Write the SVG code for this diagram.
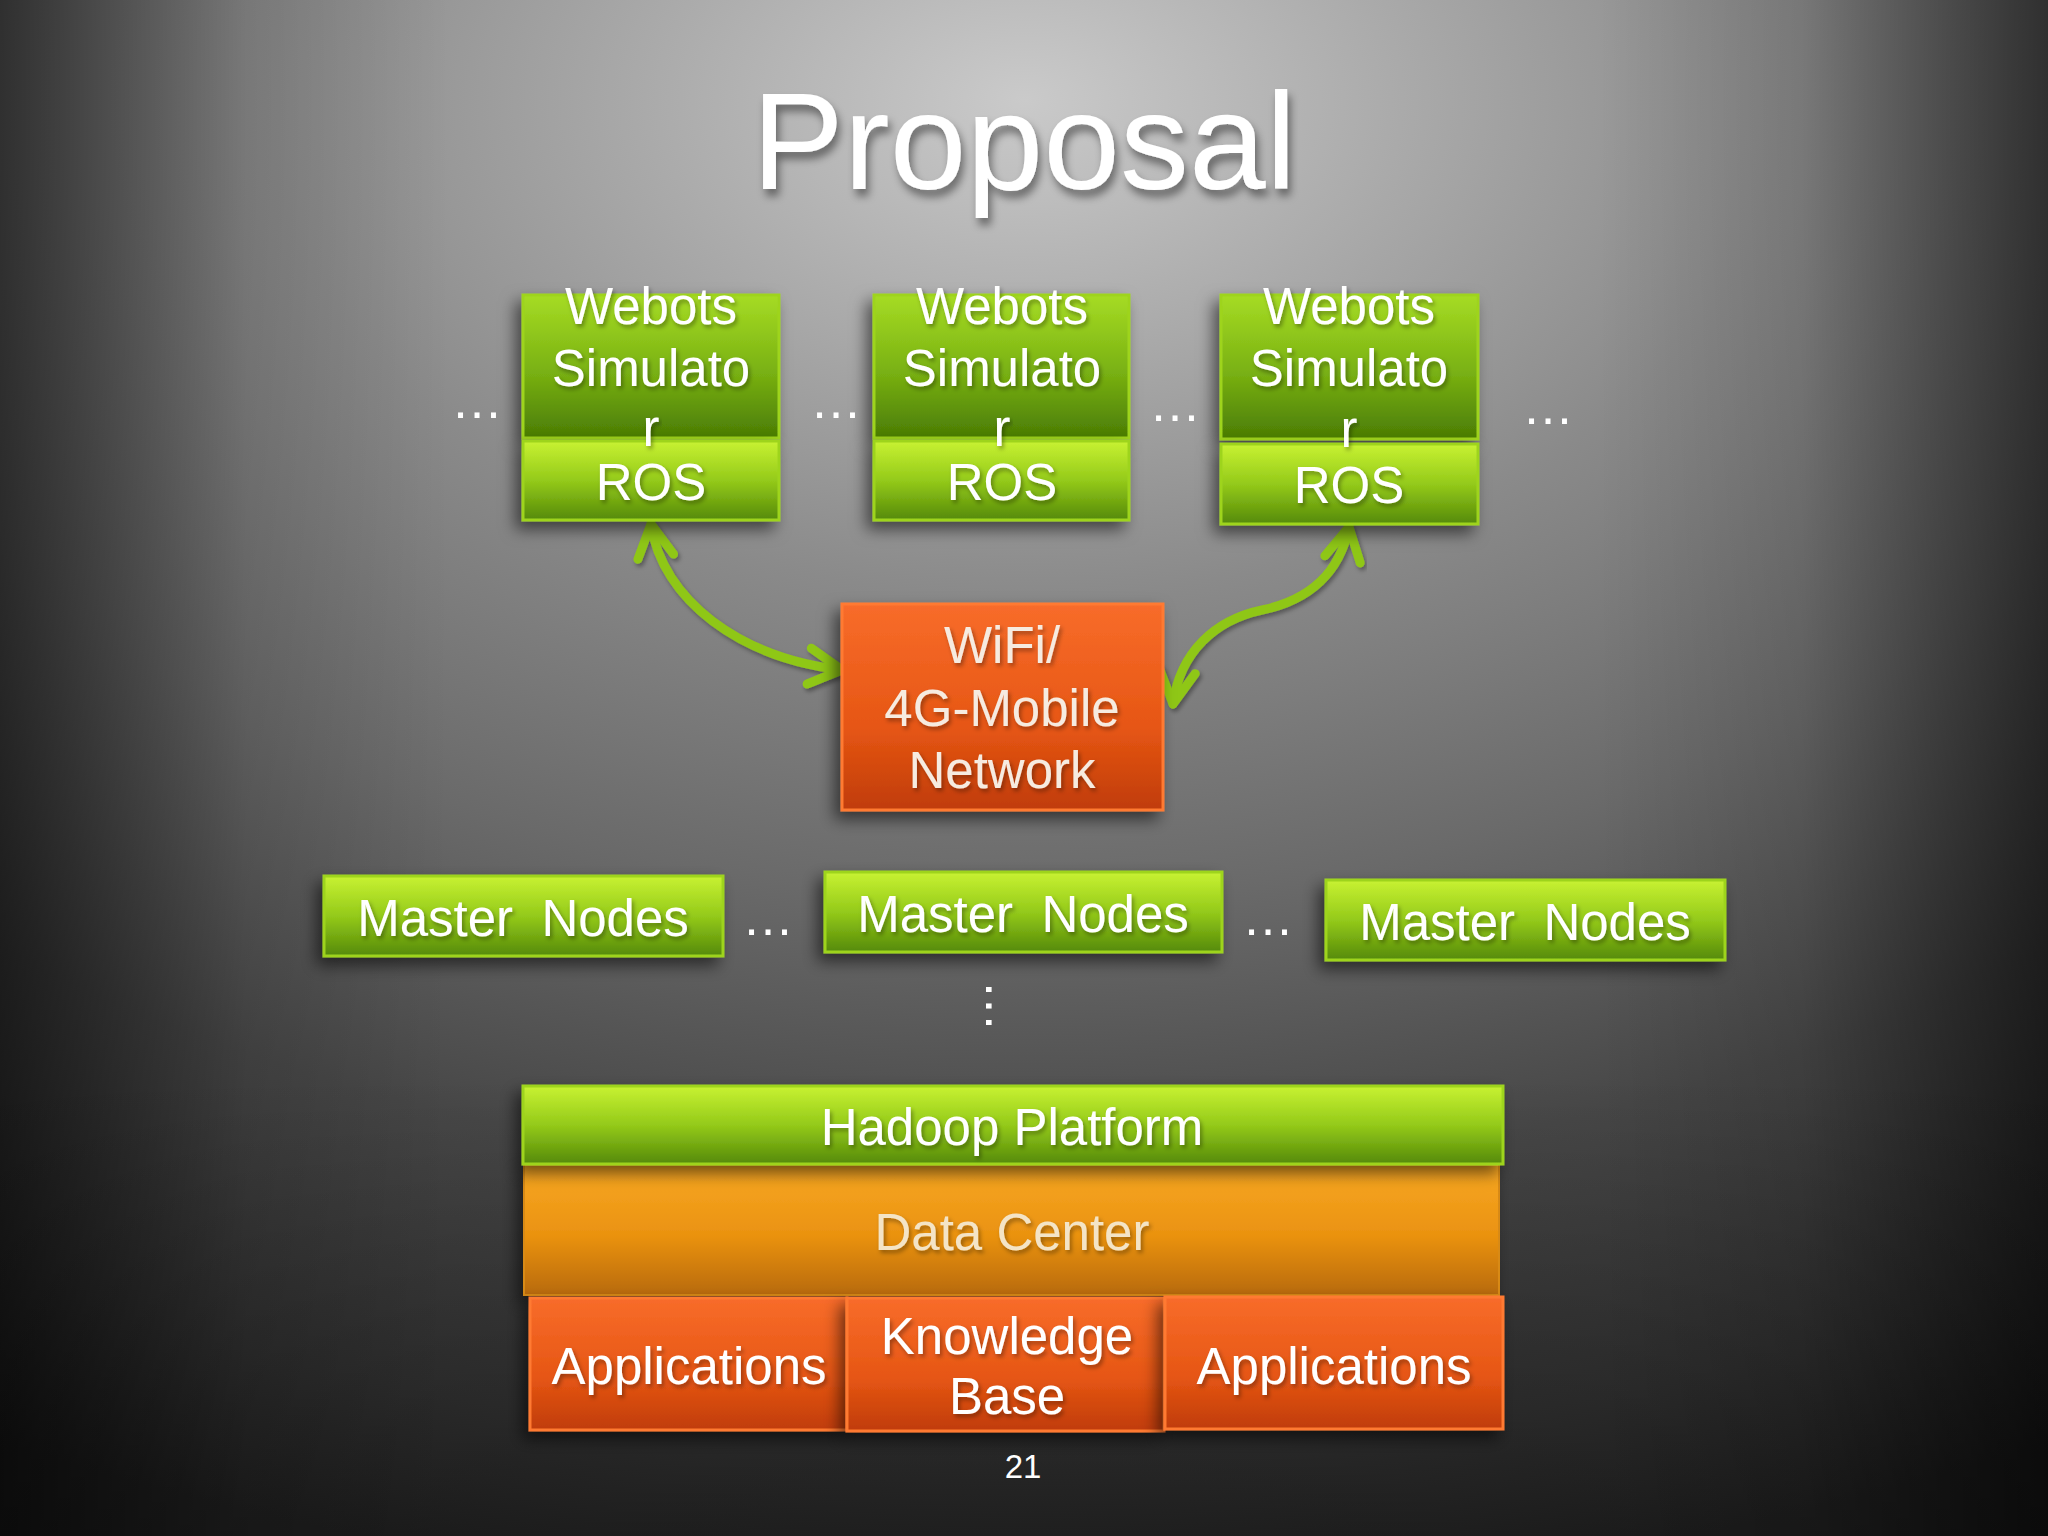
<svg xmlns="http://www.w3.org/2000/svg" width="2048" height="1536" viewBox="0 0 2048 1536">
  <defs>
    <radialGradient id="bg" gradientUnits="userSpaceOnUse" cx="1024" cy="100" r="1500" gradientTransform="translate(1024 100) scale(1.53 1) translate(-1024 -100)">
      <stop offset="0" stop-color="#cacaca"/>
      <stop offset="0.33" stop-color="#8a8a8a"/>
      <stop offset="0.53" stop-color="#6a6a6a"/>
      <stop offset="0.72" stop-color="#474747"/>
      <stop offset="0.9" stop-color="#343434"/>
      <stop offset="1" stop-color="#262626"/>
    </radialGradient>
    <linearGradient id="vigH" x1="0" y1="0" x2="1" y2="0">
      <stop offset="0" stop-color="#000" stop-opacity="0.6"/>
      <stop offset="0.06" stop-color="#000" stop-opacity="0.36"/>
      <stop offset="0.12" stop-color="#000" stop-opacity="0.12"/>
      <stop offset="0.22" stop-color="#000" stop-opacity="0"/>
      <stop offset="0.78" stop-color="#000" stop-opacity="0"/>
      <stop offset="0.88" stop-color="#000" stop-opacity="0.12"/>
      <stop offset="0.94" stop-color="#000" stop-opacity="0.36"/>
      <stop offset="1" stop-color="#000" stop-opacity="0.6"/>
    </linearGradient>
    <linearGradient id="vigV" x1="0" y1="0" x2="0" y2="1">
      <stop offset="0" stop-color="#000" stop-opacity="0"/>
      <stop offset="0.7" stop-color="#000" stop-opacity="0"/>
      <stop offset="1" stop-color="#000" stop-opacity="0.3"/>
    </linearGradient>
    <linearGradient id="green" x1="0" y1="0" x2="0" y2="1">
      <stop offset="0" stop-color="#c8f232"/>
      <stop offset="0.5" stop-color="#94ca1a"/>
      <stop offset="1" stop-color="#558a08"/>
    </linearGradient>
    <linearGradient id="greenDark" x1="0" y1="0" x2="0" y2="1">
      <stop offset="0" stop-color="#a6dc24"/>
      <stop offset="0.55" stop-color="#78b012"/>
      <stop offset="1" stop-color="#4a7c04"/>
    </linearGradient>
    <linearGradient id="orange" x1="0" y1="0" x2="0" y2="1">
      <stop offset="0" stop-color="#f86c2a"/>
      <stop offset="0.6" stop-color="#e65614"/>
      <stop offset="1" stop-color="#c03c08"/>
    </linearGradient>
    <linearGradient id="amber" x1="0" y1="0" x2="0" y2="1">
      <stop offset="0" stop-color="#f8a824"/>
      <stop offset="0.55" stop-color="#ea9210"/>
      <stop offset="1" stop-color="#b86a0c"/>
    </linearGradient>
    <filter id="shadow" x="-20%" y="-30%" width="140%" height="170%">
      <feDropShadow dx="-6" dy="8" stdDeviation="8" flood-color="#000" flood-opacity="0.55"/>
    </filter>
    <filter id="tshadow" x="-10%" y="-20%" width="120%" height="150%">
      <feDropShadow dx="2" dy="3" stdDeviation="2" flood-color="#000" flood-opacity="0.35"/>
    </filter>
    <filter id="titleShadow" x="-10%" y="-20%" width="120%" height="150%">
      <feDropShadow dx="3" dy="7" stdDeviation="4" flood-color="#000" flood-opacity="0.45"/>
    </filter>
    <marker id="chev" markerUnits="userSpaceOnUse" viewBox="-44 -24 52 48" markerWidth="52" markerHeight="48" refX="0" refY="0" orient="auto-start-reverse" overflow="visible">
      <path d="M-33,-18 L0,0 L-33,18" fill="none" stroke="#8fc718" stroke-width="9" stroke-linecap="round" stroke-linejoin="round"/>
    </marker>
    <style>
      text { font-family: "Liberation Sans", Arial, sans-serif; }
      .g { fill: url(#green); stroke: #9ed41e; stroke-width: 3; filter: url(#shadow); }
      .gd { fill: url(#greenDark); stroke: #9ed41e; stroke-width: 3; filter: url(#shadow); }
      .o { fill: url(#orange); stroke: #ff7a32; stroke-width: 3; filter: url(#shadow); }
      .a { fill: url(#amber); stroke: #d88a12; stroke-width: 2; filter: url(#shadow); }
      .lbl { fill: #ffffff; font-size: 51px; text-anchor: middle; filter: url(#tshadow); }
      .soft { fill: #f6ebe0; }
      .cream { fill: #f4e4c6; }
      .dots { fill: #ffffff; font-size: 52px; text-anchor: middle; }
      .conn { fill: none; stroke: #8fc718; stroke-width: 9; stroke-linecap: round; marker-start: url(#chev); marker-end: url(#chev); filter: url(#tshadow); }
    </style>
  </defs>

  <rect x="0" y="0" width="2048" height="1536" fill="url(#bg)"/>
  <rect x="0" y="0" width="2048" height="1536" fill="url(#vigH)"/>
  <rect x="0" y="0" width="2048" height="1536" fill="url(#vigV)"/>

  <text x="1024" y="189" font-size="138" text-anchor="middle" fill="#ffffff" filter="url(#titleShadow)">Proposal</text>

  <g id="connectors">
    <path class="conn" d="M651,524 C662,600 740,658 842,670"/>
    <path class="conn" d="M1002,525 L1002,603"/>
    <path class="conn" d="M1349,527 C1340,572 1310,600 1262,610 C1215,620 1180,652 1173,704"/>
  </g>

  <g id="sim1">
    <rect class="gd" x="523" y="295" width="256" height="143"/>
    <rect class="g" x="523" y="441" width="256" height="79"/>
    <text class="lbl" x="651" y="324">Webots</text>
    <text class="lbl" x="651" y="386">Simulato</text>
    <text class="lbl" x="651" y="446">r</text>
    <text class="lbl" x="651" y="500">ROS</text>
  </g>
  <g id="sim2">
    <rect class="gd" x="874" y="295" width="255" height="143"/>
    <rect class="g" x="874" y="441" width="255" height="79"/>
    <text class="lbl" x="1002" y="324">Webots</text>
    <text class="lbl" x="1002" y="386">Simulato</text>
    <text class="lbl" x="1002" y="446">r</text>
    <text class="lbl" x="1002" y="500">ROS</text>
  </g>
  <g id="sim3">
    <rect class="gd" x="1221" y="295" width="257" height="144"/>
    <rect class="g" x="1221" y="444" width="257" height="80"/>
    <text class="lbl" x="1349" y="324">Webots</text>
    <text class="lbl" x="1349" y="386">Simulato</text>
    <text class="lbl" x="1349" y="447">r</text>
    <text class="lbl" x="1349" y="503">ROS</text>
  </g>

  <g id="dots-top">
    <text class="dots" x="477" y="418">…</text>
    <text class="dots" x="836" y="418">…</text>
    <text class="dots" x="1175" y="421">…</text>
    <text class="dots" x="1548" y="424">…</text>
  </g>

  <g id="network">
    <rect class="o" x="842" y="604" width="321" height="206" stroke="none"/>
    <text class="lbl soft" x="1002" y="663">WiFi/</text>
    <text class="lbl soft" x="1002" y="726">4G-Mobile</text>
    <text class="lbl soft" x="1002" y="788">Network</text>
  </g>

  <g id="master1">
    <rect class="g" x="324" y="876" width="399" height="80"/>
    <text class="lbl" x="523" y="936" xml:space="preserve">Master  Nodes</text>
  </g>
  <g id="master2">
    <rect class="g" x="825" y="872" width="397" height="80"/>
    <text class="lbl" x="1023" y="932" xml:space="preserve">Master  Nodes</text>
  </g>
  <g id="master3">
    <rect class="g" x="1326" y="880" width="399" height="80"/>
    <text class="lbl" x="1525" y="940" xml:space="preserve">Master  Nodes</text>
  </g>

  <g id="dots-master">
    <text class="dots" x="768" y="935">…</text>
    <text class="dots" x="1268" y="935">…</text>
    <text class="dots" transform="translate(986 1006) rotate(90)" x="0" y="0">…</text>
  </g>

  <g id="datacenter">
    <rect class="a" x="524" y="1164" width="975" height="131"/>
    <text class="lbl cream" x="1012" y="1250">Data Center</text>
  </g>
  <g id="hadoop">
    <rect class="g" x="523" y="1086" width="980" height="78"/>
    <text class="lbl" x="1012" y="1145">Hadoop Platform</text>
  </g>

  <g id="apps1">
    <rect class="o" x="530" y="1298" width="317" height="132"/>
    <text class="lbl" x="689" y="1384">Applications</text>
  </g>
  <g id="knowledge">
    <rect class="o" x="847" y="1298" width="317" height="133"/>
    <text class="lbl" x="1007" y="1354">Knowledge</text>
    <text class="lbl" x="1007" y="1414">Base</text>
  </g>
  <g id="apps2">
    <rect class="o" x="1165" y="1297" width="338" height="132"/>
    <text class="lbl" x="1334" y="1384">Applications</text>
  </g>

  <text x="1023" y="1478" font-size="33" text-anchor="middle" fill="#ffffff">21</text>
</svg>
